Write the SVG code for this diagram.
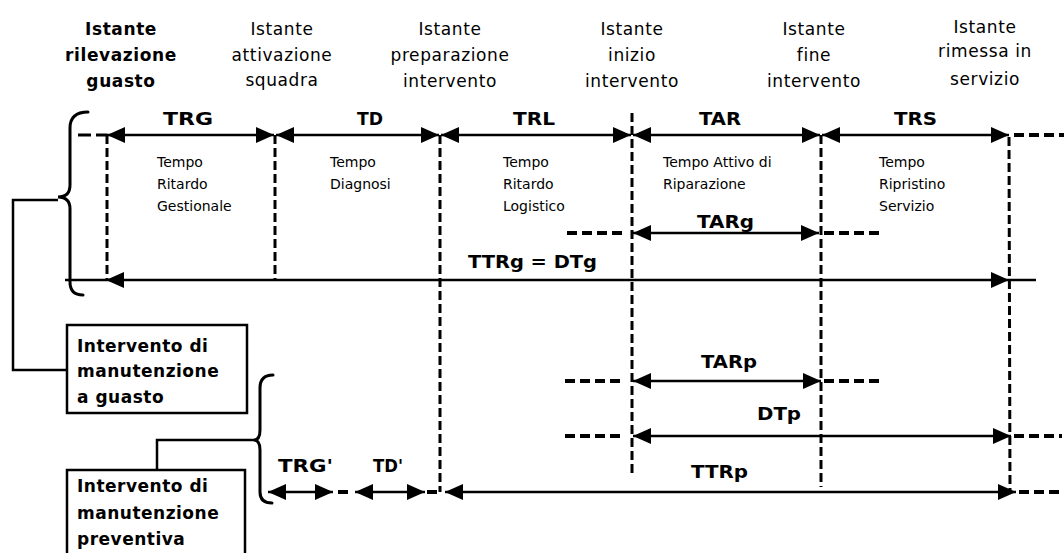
<svg xmlns="http://www.w3.org/2000/svg" width="1064" height="553" viewBox="0 0 1064 553">
<style>
.hdr{font-family:"DejaVu Sans","Liberation Sans",sans-serif;font-size:17px;letter-spacing:0.6px;fill:#000;text-anchor:middle}
.hdrb{font-weight:bold}
.sm{font-family:"DejaVu Sans","Liberation Sans",sans-serif;font-size:14px;fill:#000}
.lbl{font-family:"DejaVu Sans","Liberation Sans",sans-serif;font-size:18px;font-weight:bold;fill:#000}
.box{font-family:"DejaVu Sans","Liberation Sans",sans-serif;font-size:17px;font-weight:bold;letter-spacing:0.5px;fill:#000}
.sol{stroke:#000;stroke-width:2.5;fill:none}
.arr{stroke:#000;stroke-width:2.5;fill:none;marker-start:url(#ah);marker-end:url(#ah)}
.hd{stroke:#000;stroke-width:4;stroke-dasharray:10 5;fill:none}
.vd{stroke:#000;stroke-width:3;stroke-dasharray:9 4;fill:none}
.brace{stroke:#000;stroke-width:3;fill:none;stroke-linecap:round}
.rect{stroke:#000;stroke-width:2.5;fill:#fff}
</style>
<defs>
<marker id="ah" viewBox="0 0 18 16" refX="18" refY="8" markerWidth="18" markerHeight="16" orient="auto-start-reverse" markerUnits="userSpaceOnUse">
<path d="M0,0 L18,8 L0,16 z" fill="#000"/>
</marker>
</defs>
<rect width="1064" height="553" fill="#fff"/>

<g id="headers">
<g id="h1" class="hdr hdrb"><text x="121" y="35">Istante</text><text x="121" y="61">rilevazione</text><text x="121" y="87">guasto</text></g>
<g id="h2" class="hdr"><text x="282" y="35">Istante</text><text x="282" y="61">attivazione</text><text x="282" y="86">squadra</text></g>
<g id="h3" class="hdr"><text x="450" y="35">Istante</text><text x="450" y="61">preparazione</text><text x="450" y="87">intervento</text></g>
<g id="h4" class="hdr"><text x="632" y="35">Istante</text><text x="632" y="61">inizio</text><text x="632" y="87">intervento</text></g>
<g id="h5" class="hdr"><text x="814" y="35">Istante</text><text x="814" y="61">fine</text><text x="814" y="87">intervento</text></g>
<g id="h6" class="hdr"><text x="985" y="33">Istante</text><text x="985" y="57">rimessa in</text><text x="985" y="85">servizio</text></g>
</g>

<g id="connectors">
<!-- vertical instants -->
<line class="vd" x1="107" y1="135" x2="107" y2="280"/>
<line class="vd" x1="275" y1="135" x2="275" y2="280"/>
<line class="vd" x1="440" y1="135" x2="440" y2="492"/>
<line class="vd" x1="632" y1="113" x2="632" y2="473"/>
<line class="vd" x1="821" y1="135" x2="821" y2="487"/>
<line class="vd" x1="1009" y1="137" x2="1010" y2="492"/>
<!-- top row -->
<line x1="78" y1="135" x2="107" y2="135" stroke="#000" stroke-width="3" stroke-dasharray="13 5"/>
<line class="arr" x1="107" y1="135" x2="274" y2="135"/>
<line class="arr" x1="276" y1="135" x2="439" y2="135"/>
<line class="arr" x1="441" y1="135" x2="631" y2="135"/>
<line class="arr" x1="633" y1="135" x2="820" y2="135"/>
<line class="arr" x1="822" y1="135" x2="1009" y2="135"/>
<line class="hd" x1="1014" y1="135" x2="1064" y2="135"/>
<!-- TTRg -->
<line class="sol" x1="65" y1="280" x2="106" y2="280"/>
<line class="arr" x1="106" y1="280" x2="1009" y2="280"/>
<line class="sol" x1="1009" y1="280" x2="1036" y2="280"/>
<!-- TARg -->
<line class="hd" x1="567" y1="233" x2="625" y2="233"/>
<line class="arr" x1="633" y1="233" x2="819" y2="233"/>
<line class="hd" x1="824" y1="233" x2="881" y2="233"/>
<!-- TARp -->
<line class="hd" x1="565" y1="381" x2="625" y2="381"/>
<line class="arr" x1="633" y1="381" x2="821" y2="381"/>
<line class="hd" x1="824" y1="381" x2="882" y2="381"/>
<!-- DTp -->
<line class="hd" x1="565" y1="436" x2="625" y2="436"/>
<line class="arr" x1="633" y1="436" x2="1011" y2="436"/>
<line class="hd" x1="1014" y1="436" x2="1062" y2="436"/>
<!-- TTRp row -->
<line class="arr" x1="268" y1="492" x2="333" y2="492"/>
<line class="hd" x1="338" y1="492" x2="352" y2="492"/>
<line class="arr" x1="355" y1="492" x2="425" y2="492"/>
<line class="hd" x1="427" y1="492" x2="438" y2="492"/>
<line class="arr" x1="445" y1="492" x2="1016" y2="492"/>
<line class="hd" x1="1019" y1="492" x2="1064" y2="492"/>
<!-- braces and leaders -->
<path class="brace" d="M88,112 Q70,112 70,128 L70,185 Q70,197 58,197 Q70,197 70,209 L70,282 Q70,295 83,295"/>
<polyline class="sol" points="58,200 13,200 13,370 67,370"/>
<path class="brace" d="M273,375 Q260,375 260,388 L260,430 Q260,440 254,440 Q260,440 260,450 L260,492 Q260,503 272,503"/>
<polyline class="sol" points="255,440 157,440 157,470"/>
</g>

<g id="labels">
<text class="lbl" x="163" y="125" textLength="50" lengthAdjust="spacingAndGlyphs">TRG</text>
<text class="lbl" x="357" y="125" textLength="26" lengthAdjust="spacingAndGlyphs">TD</text>
<text class="lbl" x="513" y="125" textLength="42" lengthAdjust="spacingAndGlyphs">TRL</text>
<text class="lbl" x="699" y="125" textLength="42" lengthAdjust="spacingAndGlyphs">TAR</text>
<text class="lbl" x="894" y="125" textLength="43" lengthAdjust="spacingAndGlyphs">TRS</text>
<text class="lbl" x="468" y="268" textLength="129" lengthAdjust="spacingAndGlyphs">TTRg = DTg</text>
<text class="lbl" x="697" y="228" textLength="57" lengthAdjust="spacingAndGlyphs">TARg</text>
<text class="lbl" x="701" y="368" textLength="56" lengthAdjust="spacingAndGlyphs">TARp</text>
<text class="lbl" x="757" y="420" textLength="44" lengthAdjust="spacingAndGlyphs">DTp</text>
<text class="lbl" x="691" y="478" textLength="57" lengthAdjust="spacingAndGlyphs">TTRp</text>
<text class="lbl" x="278" y="472" textLength="55" lengthAdjust="spacingAndGlyphs">TRG'</text>
<text class="lbl" x="373" y="472" textLength="30" lengthAdjust="spacingAndGlyphs">TD'</text>
</g>

<g id="descriptions" class="sm">
<g id="d1"><text x="157" y="167">Tempo</text><text x="157" y="189">Ritardo</text><text x="157" y="211">Gestionale</text></g>
<g id="d2"><text x="330" y="167">Tempo</text><text x="330" y="189">Diagnosi</text></g>
<g id="d3"><text x="503" y="167">Tempo</text><text x="503" y="189">Ritardo</text><text x="503" y="211">Logistico</text></g>
<g id="d4"><text x="663" y="167">Tempo Attivo di</text><text x="663" y="189">Riparazione</text></g>
<g id="d5"><text x="879" y="167">Tempo</text><text x="879" y="189">Ripristino</text><text x="879" y="211">Servizio</text></g>
</g>

<g id="box-guasto">
<rect class="rect" x="67" y="325" width="180" height="88"/>
<text class="box" x="77" y="352">Intervento di</text>
<text class="box" x="77" y="377">manutenzione</text>
<text class="box" x="77" y="403">a guasto</text>
</g>
<g id="box-preventiva">
<rect class="rect" x="67" y="470" width="178" height="100"/>
<text class="box" x="77" y="492">Intervento di</text>
<text class="box" x="77" y="519">manutenzione</text>
<text class="box" x="77" y="545">preventiva</text>
</g>
</svg>
